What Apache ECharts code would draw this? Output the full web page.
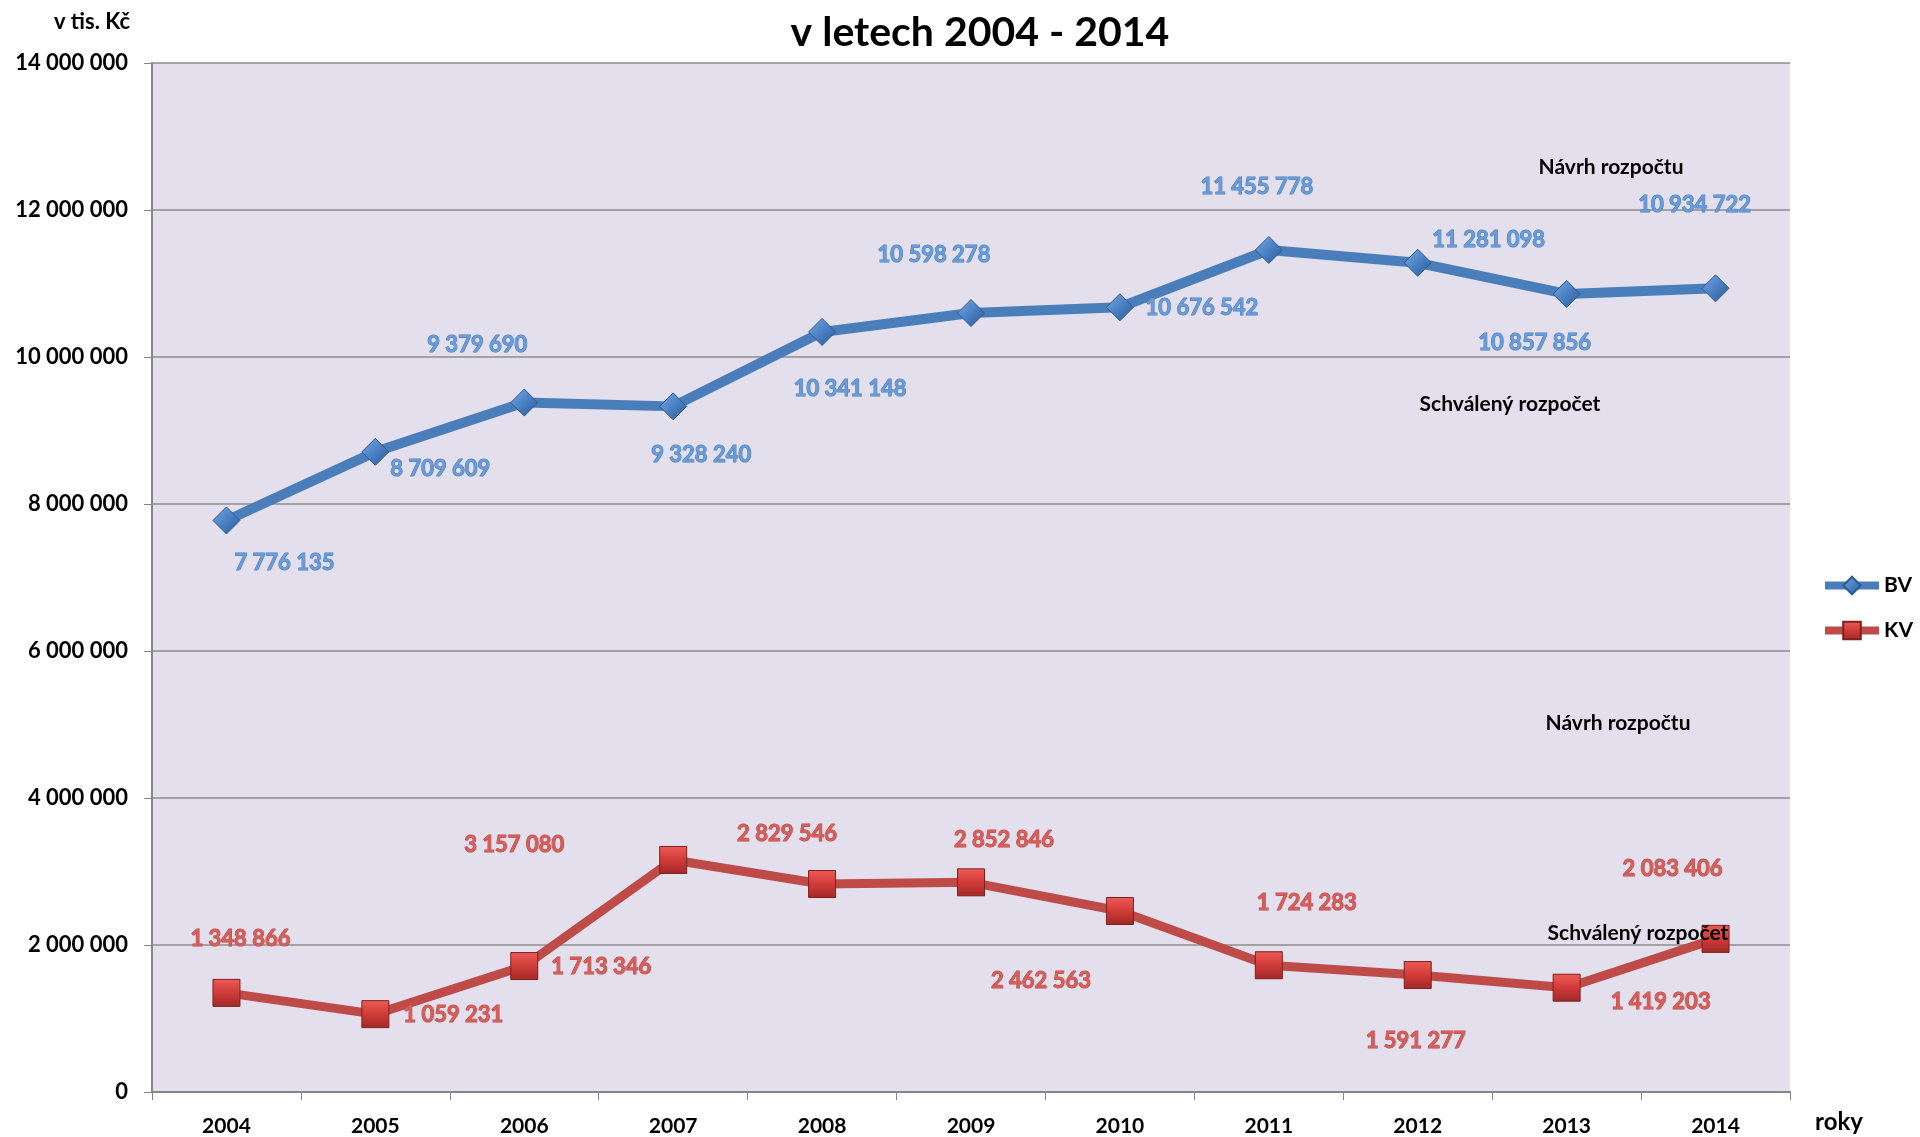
<!DOCTYPE html>
<html>
<head>
<meta charset="utf-8">
<script src="https://cdn.jsdelivr.net/npm/echarts@6/dist/echarts.min.js"></script>
<style>
  html, body { margin: 0; padding: 0; background: #fff; }
  #main { width: 1920px; height: 1137px; }
</style>
</head>
<body>
<div id="main"></div>
<script>
// roky
var roky = ['2004', '2005', '2006', '2007', '2008', '2009', '2010', '2011', '2012', '2013', '2014'];
// BV - běžné výdaje (v tis. Kč)
var bv = [7776135, 8709609, 9379690, 9328240, 10341148, 10598278, 10676542, 11455778, 11281098, 10857856, 10934722];
// KV - kapitálové výdaje (v tis. Kč)
var kv = [1348866, 1059231, 1713346, 3157080, 2829546, 2852846, 2462563, 1724283, 1591277, 1419203, 2083406];
var yTicks = [0, 2000000, 4000000, 6000000, 8000000, 10000000, 12000000, 14000000];

// posun popisků od bodu (ručně rozmístěné jako v Excelu)
var bvOffset = [[58, 42], [65, 17], [-47, -58], [28, 49], [28, 57], [-37, -58], [82, 1], [-12, -63], [71, -23], [-32, 49], [-21, -83]];
var kvOffset = [[14, -54], [78, 1], [77, 1], [-159, -15], [-35, -50], [33, -42], [-79, 70], [38, -62], [-2, 66], [94, 14], [-43, -70]];

var FONT = 'Lato, "Liberation Sans", sans-serif';

function cislo(v) {
    return String(v).replace(/\B(?=(\d{3})+(?!\d))/g, ' ');
}

function body(values, offsets) {
    var out = [];
    for (var i = 0; i < values.length; i++) {
        out.push({ value: values[i], label: { offset: offsets[i] } });
    }
    return out;
}

var myChart = echarts.init(document.getElementById('main'));

myChart.setOption({
    animation: false,
    backgroundColor: '#ffffff',
    textStyle: { fontFamily: FONT },
    grid: {
        left: 152, right: 130, top: 63, bottom: 45,
        show: true,
        backgroundColor: '#e4dfec',
        borderWidth: 0
    },
    legend: {
        data: ['BV', 'KV'],
        orient: 'vertical',
        left: 1816,
        top: 570,
        itemWidth: 54,
        itemHeight: 22,
        itemGap: 24,
        lineStyle: { width: 8 },
        textStyle: { fontFamily: FONT, fontSize: 21, fontWeight: 'bold', color: '#000' }
    },
    xAxis: {
        type: 'category',
        data: roky,
        boundaryGap: true,
        axisLine: { lineStyle: { color: '#868686', width: 2 } },
        axisTick: { show: true, length: 8, lineStyle: { color: '#868686', width: 1 } },
        axisLabel: { margin: 24, fontFamily: FONT, fontSize: 21, fontWeight: 'bold', color: '#000' }
    },
    yAxis: {
        type: 'value',
        min: yTicks[0],
        max: yTicks[yTicks.length - 1],
        interval: 2000000,
        axisLine: { show: true, lineStyle: { color: '#868686', width: 2 } },
        axisTick: { show: true, length: 8, lineStyle: { color: '#868686', width: 1 } },
        splitLine: { lineStyle: { color: '#8c8c8c', width: 1.5 } },
        axisLabel: {
            margin: 24, fontFamily: FONT, fontSize: 22, fontWeight: 'bold', color: '#000',
            formatter: function (v) { return cislo(v); }
        }
    },
    series: [
        {
            name: 'BV',
            type: 'line',
            data: body(bv, bvOffset),
            symbol: 'diamond',
            symbolSize: 27,
            lineStyle: { color: '#4a7ebb', width: 10 },
            itemStyle: {
                color: {
                    type: 'linear', x: 0, y: 0, x2: 1, y2: 1,
                    colorStops: [{ offset: 0, color: '#7aaae6' }, { offset: 0.5, color: '#4a80c4' }, { offset: 1, color: '#2c5a92' }]
                },
                borderColor: '#2f5b8f',
                borderWidth: 1
            },
            label: {
                show: true,
                position: 'inside',
                fontFamily: FONT,
                fontSize: 22,
                fontWeight: 'bold',
                color: '#6a9ad8',
                textBorderColor: '#4a7ebb',
                textBorderWidth: 1,
                formatter: function (p) { return cislo(p.value); }
            },
            z: 3
        },
        {
            name: 'KV',
            type: 'line',
            data: body(kv, kvOffset),
            symbol: 'rect',
            symbolSize: 27,
            lineStyle: { color: '#be4b48', width: 9 },
            itemStyle: {
                color: {
                    type: 'linear', x: 0, y: 0, x2: 0, y2: 1,
                    colorStops: [{ offset: 0, color: '#ee5b57' }, { offset: 0.5, color: '#d03b38' }, { offset: 1, color: '#a02927' }]
                },
                borderColor: '#7d2120',
                borderWidth: 1
            },
            label: {
                show: true,
                position: 'inside',
                fontFamily: FONT,
                fontSize: 22,
                fontWeight: 'bold',
                color: '#d55e5b',
                textBorderColor: '#be4b48',
                textBorderWidth: 1,
                formatter: function (p) { return cislo(p.value); }
            },
            z: 3
        }
    ],
    graphic: [
        {
            type: 'text', x: 980, y: 33, z: 10,
            style: { text: 'v letech 2004 - 2014', font: 'bold 41px ' + FONT, fill: '#000', align: 'center', verticalAlign: 'middle' }
        },
        {
            type: 'text', x: 92, y: 22,
            style: { text: 'v tis. Kč', font: 'bold 22px ' + FONT, fill: '#000', align: 'center', verticalAlign: 'middle' }
        },
        {
            type: 'text', x: 1839, y: 1122,
            style: { text: 'roky', font: 'bold 24px ' + FONT, fill: '#000', align: 'center', verticalAlign: 'middle' }
        },
        {
            type: 'text', x: 1611, y: 167, z: 10,
            style: { text: 'Návrh rozpočtu', font: 'bold 21px ' + FONT, fill: '#000', align: 'center', verticalAlign: 'middle' }
        },
        {
            type: 'text', x: 1510, y: 404, z: 10,
            style: { text: 'Schválený rozpočet', font: 'bold 21px ' + FONT, fill: '#000', align: 'center', verticalAlign: 'middle' }
        },
        {
            type: 'text', x: 1618, y: 723, z: 10,
            style: { text: 'Návrh rozpočtu', font: 'bold 21px ' + FONT, fill: '#000', align: 'center', verticalAlign: 'middle' }
        },
        {
            type: 'text', x: 1638, y: 933, z: 10,
            style: { text: 'Schválený rozpočet', font: 'bold 21px ' + FONT, fill: '#000', align: 'center', verticalAlign: 'middle' }
        }
    ]
});
</script>
</body>
</html>
